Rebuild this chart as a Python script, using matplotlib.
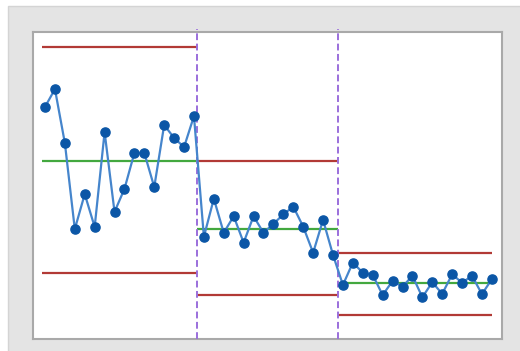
import numpy as np
import matplotlib.pyplot as plt
from matplotlib.patches import Rectangle

# Individual measurements for each phase of the process
phase1 = [75.6, 81.4, 63.8, 35.8, 47.2, 36.5, 67.4, 41.4,
          48.9, 60.6, 60.6, 49.5, 69.7, 65.5, 62.5, 72.6]
phase2 = [33.3, 45.7, 34.6, 40.0, 31.4, 40.0, 34.6, 37.5,
          40.6, 43.1, 36.6, 28.1, 38.8, 27.4]
phase3 = [17.6, 24.9, 21.6, 20.9, 14.3, 18.9, 17.0, 20.6,
          13.6, 18.5, 14.7, 21.1, 18.3, 20.6, 14.6, 19.5]

# Control limits per phase
lcl = [21.4, 14.4, 7.8]
cl = [58.0, 35.9, 18.1]
ucl = [95.2, 58.0, 27.9]

# where one phase hands over to the next
splits = [16.35, 30.5]

phases = [phase1, phase2, phase3]
values = np.concatenate(phases)
idx = np.arange(1, len(values) + 1)
bounds = [0.7] + splits + [len(values)]

fig = plt.figure(figsize=(5.2, 3.51), dpi=100)
fig.patch.set_facecolor("white")

# gray panel behind the chart
fig.patches.append(Rectangle((8 / 520, -0.01), 1.1, 1.01 - 6 / 351,
                             transform=fig.transFigure, facecolor="#e4e4e4",
                             edgecolor="#d4d4d4", linewidth=1, zorder=-1))

ax = fig.add_axes([33 / 520, 12 / 351, 469 / 520, 307 / 351])
ax.set_facecolor("white")

for k in range(3):
    x0, x1 = bounds[k], bounds[k + 1]
    ax.hlines([ucl[k], lcl[k]], x0, x1, color="#b23a36", linewidth=1.6, zorder=2)
    ax.hlines(cl[k], x0, x1, color="#43a83f", linewidth=1.6, zorder=2)

for b in splits:
    ax.axvline(b, ymin=0, ymax=1.01, color="#9b6fdc", linestyle=(0, (3.5, 1.8)),
               linewidth=1.4, clip_on=False, zorder=3)

ax.plot(idx, values, color="#4585cc", linewidth=1.6, zorder=4)
ax.plot(idx, values, linestyle="none", marker="o", markersize=6.6,
        color="#0b56a6", zorder=5)

ax.set_xlim(-0.21, 47.02)
ax.set_ylim(0, 100)
ax.set_xticks([])
ax.set_yticks([])
for s in ax.spines.values():
    s.set_color("#a9a9a9")
    s.set_linewidth(1.5)

fig.savefig("out.png", dpi=100)
